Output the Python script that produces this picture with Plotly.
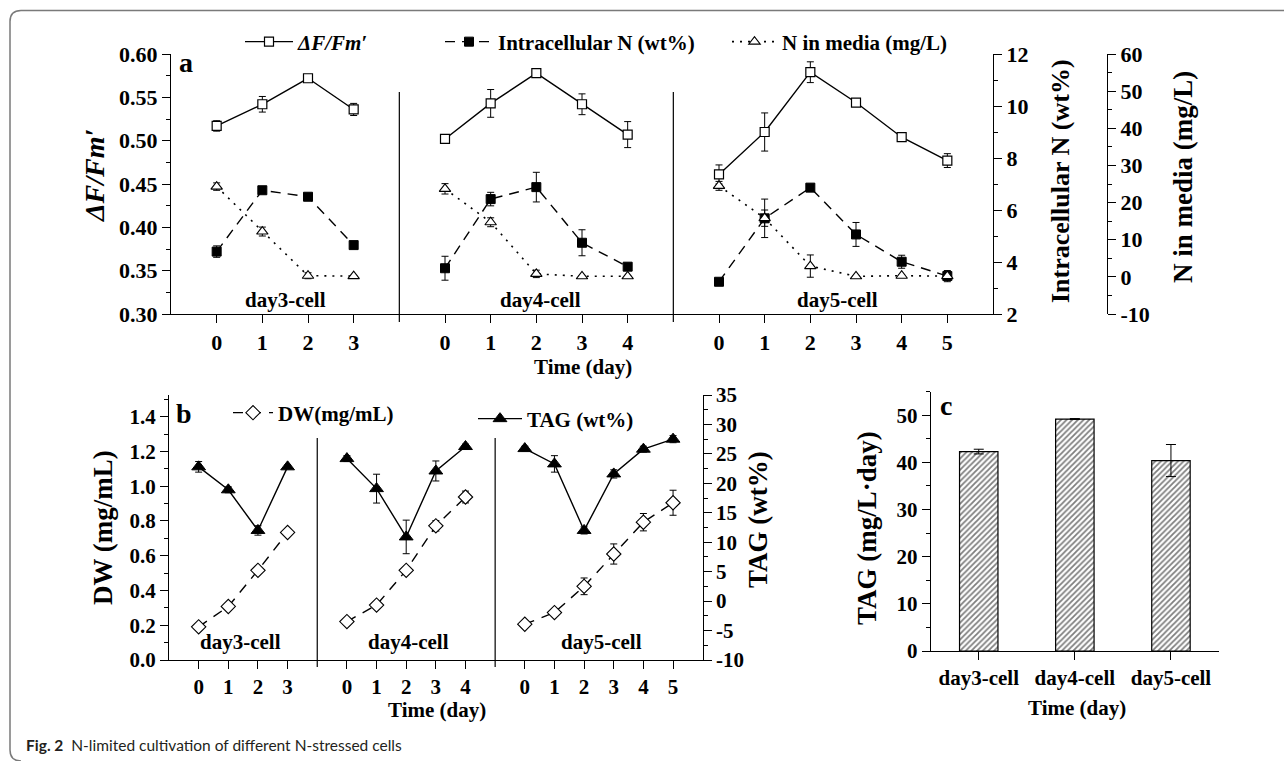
import plotly.graph_objects as go

# ---------------- data ----------------
days3 = [0, 1, 2, 3]
days4 = [0, 1, 2, 3, 4]
days5 = [0, 1, 2, 3, 4, 5]
group_names = ["day3-cell", "day4-cell", "day5-cell"]

# panel a: ΔF/Fm'
fv_d3 = [0.517, 0.542, 0.572, 0.536]
fv_d3_err = [0.006, 0.009, 0.003, 0.007]
fv_d4 = [0.502, 0.543, 0.578, 0.542, 0.507]
fv_d4_err = [0.003, 0.016, 0.002, 0.012, 0.015]
fv_d5 = [0.461, 0.510, 0.579, 0.544, 0.504, 0.477]
fv_d5_err = [0.011, 0.022, 0.012, 0.002, 0.002, 0.008]

# panel a: intracellular N (wt%)
intN_d3 = [4.40, 6.76, 6.51, 4.65]
intN_d3_err = [0.22, 0.10, 0.10, 0.10]
intN_d4 = [3.76, 6.42, 6.88, 4.74, 3.82]
intN_d4_err = [0.46, 0.26, 0.57, 0.50, 0.10]
intN_d5 = [3.24, 5.68, 6.86, 5.06, 4.01, 3.46]
intN_d5_err = [0.05, 0.74, 0.10, 0.46, 0.25, 0.10]

# panel a: N in media (mg/L)
nmed_d3 = [24.3, 12.2, 0.3, 0.2]
nmed_d3_err = [1.0, 1.2, 0.8, 0.2]
nmed_d4 = [23.7, 14.7, 0.8, 0.15, 0.15]
nmed_d4_err = [1.4, 1.2, 1.0, 0.2, 0.2]
nmed_d5 = [24.5, 15.8, 2.9, 0.15, 0.3, 0.2]
nmed_d5_err = [1.2, 2.2, 3.0, 0.2, 0.2, 1.5]

# panel b: DW (mg/mL)
dw_d3 = [0.191, 0.308, 0.516, 0.734]
dw_d3_err = [0.010, 0.015, 0.015, 0.015]
dw_d4 = [0.221, 0.316, 0.516, 0.772, 0.938]
dw_d4_err = [0.010, 0.010, 0.015, 0.030, 0.034]
dw_d5 = [0.206, 0.273, 0.424, 0.610, 0.793, 0.905]
dw_d5_err = [0.010, 0.015, 0.048, 0.058, 0.050, 0.072]

# panel b: TAG (wt%)
tag_d3 = [22.8, 18.9, 12.0, 22.8]
tag_d3_err = [0.9, 0.5, 0.8, 0.3]
tag_d4 = [24.2, 19.1, 10.9, 22.1, 26.25]
tag_d4_err = [0.5, 2.45, 2.85, 1.7, 0.4]
tag_d5 = [25.9, 23.3, 12.0, 21.6, 25.8, 27.5]
tag_d5_err = [0.4, 1.4, 0.6, 0.7, 0.5, 0.6]

# panel c: TAG productivity (mg/L·day)
tag_prod = [42.3, 49.2, 40.4]
tag_prod_err = [0.5, 0.1, 3.4]

# tick labels
fv_ticks = [0.30, 0.35, 0.40, 0.45, 0.50, 0.55, 0.60]
intN_ticks = [2, 4, 6, 8, 10, 12]
nmed_ticks = [-10, 0, 10, 20, 30, 40, 50, 60]
dw_ticks = [0.0, 0.2, 0.4, 0.6, 0.8, 1.0, 1.2, 1.4]
tag_ticks = [-10, -5, 0, 5, 10, 15, 20, 25, 30, 35]
prod_ticks = [0, 10, 20, 30, 40, 50]

# ---------------- layout helpers ----------------
W, H = 1284, 761
def fx(p):
    return p / W
def fy(p):
    return 1 - p / H

FONT = "Liberation Serif, Times New Roman, serif"
offsets = [1, 6, 12]       # where each day-group starts on the shared time axis
seps = [5, 11]             # group separators

def combine(groups):
    xs, ys, es = [], [], []
    for (days, vals, errs), off in zip(groups, offsets):
        xs += [d + off for d in days] + [None]
        ys += list(vals) + [None]
        es += list(errs) + [0]
    return xs, ys, es

fv_x, fv_y, fv_e = combine([(days3, fv_d3, fv_d3_err), (days4, fv_d4, fv_d4_err), (days5, fv_d5, fv_d5_err)])
in_x, in_y, in_e = combine([(days3, intN_d3, intN_d3_err), (days4, intN_d4, intN_d4_err), (days5, intN_d5, intN_d5_err)])
nm_x, nm_y, nm_e = combine([(days3, nmed_d3, nmed_d3_err), (days4, nmed_d4, nmed_d4_err), (days5, nmed_d5, nmed_d5_err)])
dw_x, dw_y, dw_e = combine([(days3, dw_d3, dw_d3_err), (days4, dw_d4, dw_d4_err), (days5, dw_d5, dw_d5_err)])
tg_x, tg_y, tg_e = combine([(days3, tag_d3, tag_d3_err), (days4, tag_d4, tag_d4_err), (days5, tag_d5, tag_d5_err)])

time_tickvals, time_ticktext = [], []
for days, off in zip([days3, days4, days5], offsets):
    time_tickvals += [d + off for d in days]
    time_ticktext += [str(d) for d in days]

def err(arr):
    return dict(type="data", array=arr, visible=True, color="black", thickness=1, width=3.5)

fig = go.Figure()

fig.add_trace(go.Scatter(
    x=fv_x, y=fv_y, error_y=err(fv_e), mode="lines+markers", name="<i>ΔF/Fm′</i>",
    line=dict(color="black", width=1.4),
    marker=dict(symbol="square", size=9, color="white", line=dict(color="black", width=1.2)),
    xaxis="x", yaxis="y", legend="legend", connectgaps=False))
fig.add_trace(go.Scatter(
    x=in_x, y=in_y, error_y=err(in_e), mode="lines+markers", name="Intracellular N (wt%)",
    line=dict(color="black", width=1.4, dash="10px,7px"),
    marker=dict(symbol="square", size=9, color="black", line=dict(color="black", width=1)),
    xaxis="x", yaxis="y2", legend="legend2", connectgaps=False))
fig.add_trace(go.Scatter(
    x=nm_x, y=nm_y, error_y=err(nm_e), mode="lines+markers", name="N in media (mg/L)",
    line=dict(color="black", width=1.6, dash="2px,6px"),
    marker=dict(symbol="triangle-up", size=10, color="white", line=dict(color="black", width=1.1)),
    xaxis="x", yaxis="y3", legend="legend3", connectgaps=False))

fig.add_trace(go.Scatter(
    x=dw_x, y=dw_y, error_y=err(dw_e), mode="lines+markers", name="DW(mg/mL)",
    line=dict(color="black", width=1.4, dash="10px,8px"),
    marker=dict(symbol="diamond", size=11, color="white", line=dict(color="black", width=1.1)),
    xaxis="x2", yaxis="y4", legend="legend4", connectgaps=False))
fig.add_trace(go.Scatter(
    x=tg_x, y=tg_y, error_y=err(tg_e), mode="lines+markers", name="TAG (wt%)",
    line=dict(color="black", width=1.4),
    marker=dict(symbol="triangle-up", size=12, color="black", line=dict(color="black", width=1)),
    xaxis="x2", yaxis="y5", legend="legend5", connectgaps=False))

fig.add_trace(go.Bar(
    x=group_names, y=tag_prod, error_y=dict(type="data", array=tag_prod_err, visible=True,
                                            color="black", thickness=1, width=5),
    width=0.4, showlegend=False,
    marker=dict(color="white", line=dict(color="black", width=1.2),
                pattern=dict(shape="/", fgcolor="black", bgcolor="white", size=4, solidity=0.45)),
    xaxis="x3", yaxis="y6"))

tickfont_a = dict(family=FONT, size=22, color="black", weight="bold")
tickfont_b = dict(family=FONT, size=21, color="black", weight="bold")

def yax(domain, rng, ticks, fmt, minor_dtick, tickfont, **kw):
    d = dict(domain=domain, range=rng, tickmode="array", tickvals=ticks,
             ticktext=[fmt.format(t) for t in ticks],
             showline=True, linecolor="black", linewidth=1.2, ticks="outside", ticklen=8,
             tickwidth=1.2, tickcolor="black", showgrid=False, zeroline=False,
             tickfont=tickfont, automargin=False,
             minor=dict(ticks="outside", ticklen=4, tickwidth=1.2, tickcolor="black",
                        dtick=minor_dtick, tick0=rng[0], showgrid=False))
    d.update(kw)
    return d

def xax(domain, rng, anchor, tickfont):
    return dict(domain=domain, range=rng, anchor=anchor, tickmode="array",
                tickvals=time_tickvals, ticktext=time_ticktext,
                showline=True, linecolor="black", linewidth=1.2, ticks="outside",
                ticklen=8, tickwidth=1.2, tickcolor="black", showgrid=False,
                zeroline=False, tickfont=tickfont, automargin=False)

dom_a = [fy(314), fy(54)]
dom_b = [fy(660), fy(395)]
dom_c = [fy(651), fy(391.7)]

legfont = dict(family=FONT, size=21, color="black", weight="bold")
def leg(xp, yp, iw):
    return dict(x=fx(xp), y=fy(yp), xanchor="left", yanchor="middle", orientation="h",
                font=legfont, bgcolor="rgba(0,0,0,0)", itemwidth=iw, borderwidth=0,
                itemclick=False, itemdoubleclick=False)

fig.update_layout(
    width=W, height=H, margin=dict(l=0, r=0, t=0, b=0),
    paper_bgcolor="white", plot_bgcolor="white",
    font=dict(family=FONT, color="black"),
    xaxis=xax([fx(171), fx(993)], [0, 18], "y", tickfont_a),
    yaxis=yax(dom_a, [0.30, 0.60], fv_ticks, "{:.2f}", 0.025, tickfont_a, anchor="x"),
    yaxis2=yax(dom_a, [2, 12], intN_ticks, "{:d}", 1, tickfont_a,
               overlaying="y", side="right", anchor="x"),
    yaxis3=yax(dom_a, [-10, 60], nmed_ticks, "{:d}", 5, tickfont_a,
               overlaying="y", side="right", anchor="free", position=fx(1107)),
    xaxis2=xax([fx(169), fx(702.7)], [0, 18], "y4", tickfont_b),
    yaxis4=yax(dom_b, [0, 1.525], dw_ticks, "{:.1f}", 0.1, tickfont_b, anchor="x2"),
    yaxis5=yax(dom_b, [-10, 35], tag_ticks, "{:d}", 2.5, tickfont_b,
               overlaying="y4", side="right", anchor="x2"),
    xaxis3=dict(domain=[fx(930.7), fx(1219)], range=[-0.5, 2.5], anchor="y6",
                showline=True, linecolor="black", linewidth=1.2, ticks="outside", ticklen=8,
                tickwidth=1.2, tickcolor="black", showgrid=False, zeroline=False,
                tickfont=dict(family=FONT, size=21, color="black", weight="bold"),
                automargin=False),
    yaxis6=yax(dom_c, [0, 55], prod_ticks, "{:d}", 5, tickfont_b, anchor="x3"),
    legend=leg(240, 42, 48),
    legend2=leg(440, 42, 48),
    legend3=leg(727, 42, 45),
    legend4=leg(228, 413, 40),
    legend5=leg(473, 419, 44),
    showlegend=True,
)

shapes = []
for s in seps:
    shapes.append(dict(type="line", xref="x", yref="paper", x0=s, x1=s, y0=fy(322), y1=fy(92),
                       line=dict(color="black", width=1.2)))
    shapes.append(dict(type="line", xref="x2", yref="paper", x0=s, x1=s, y0=fy(667), y1=fy(438),
                       line=dict(color="black", width=1.2)))

# rounded frame
r = 11
path = (f"M {fx(1290)},{fy(10.5)} L {fx(10 + r)},{fy(10.5)} "
        f"Q {fx(10)},{fy(10.5)} {fx(10)},{fy(10.5 + r)} "
        f"L {fx(10)},{fy(761 - r)} Q {fx(10)},{fy(761)} {fx(10 + r)},{fy(761)}")
shapes.append(dict(type="path", xref="paper", yref="paper", path=path,
                   line=dict(color="#7a7a7a", width=1.5)))
fig.update_layout(shapes=shapes)

def ann(text, x, y, size, xanchor="center", angle=0, italic=False, family=FONT, color="black", bold=True):
    return dict(text=text, x=fx(x), y=fy(y), xref="paper", yref="paper", showarrow=False,
                xanchor=xanchor, yanchor="middle", textangle=angle,
                font=dict(family=family, size=size, color=color,
                          weight="bold" if bold else "normal",
                          style="italic" if italic else "normal"))

anns = [
    ann("a", 177, 63, 28, xanchor="left"),
    ann("ΔF/Fm′", 95, 175, 28, angle=-90, italic=True),
    ann("Intracellular N (wt%)", 1060, 181, 26, angle=-90),
    ann("N in media (mg/L)", 1183, 177, 27, angle=-90),
    ann("Time (day)", 583, 367, 21),
    ann(group_names[0], 285, 300, 21),
    ann(group_names[1], 540, 300, 21),
    ann(group_names[2], 837, 300, 21),
    ann("b", 174, 414, 28, xanchor="left"),
    ann("DW (mg/mL)", 103, 528, 27, angle=-90),
    ann("TAG (wt%)", 758, 520, 27, angle=-90),
    ann("Time (day)", 437, 710, 21),
    ann(group_names[0], 240, 642, 21),
    ann(group_names[1], 408, 642, 21),
    ann(group_names[2], 601, 642, 21),
    ann("c", 938, 405, 28, xanchor="left"),
    ann("TAG (mg/L·day)", 867, 528, 27, angle=-90),
    ann("Time (day)", 1077, 708, 21),
    ann("<b>Fig. 2</b>  N-limited cultivation of different N-stressed cells", 24, 745, 15.5,
        xanchor="left", family="Lato, Open Sans, sans-serif", color="#231f20", bold=False),
]
fig.update_layout(annotations=anns)

fig.write_html("out.html", config={"displayModeBar": False},
               post_script="document.body.style.margin='0';document.body.style.overflow='hidden';")
